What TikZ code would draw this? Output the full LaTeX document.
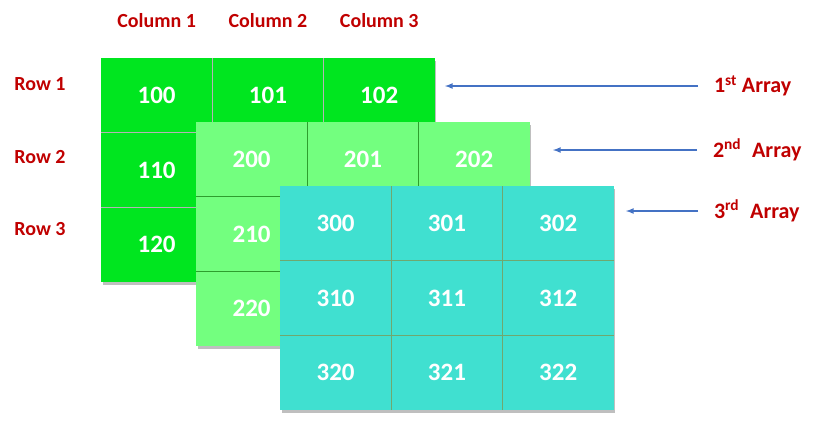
\documentclass[tikz,border=0pt]{standalone}
\usepackage{fontspec}
\setmainfont{Carlito}
\usetikzlibrary{positioning}
\usetikzlibrary{shadows}
\definecolor{brightGreen}{HTML}{00E61F}
\definecolor{paleGreen}{HTML}{73FF7F}
\definecolor{seaCyan}{HTML}{40E0D0}
\definecolor{darkRed}{HTML}{C00000}
\definecolor{arrowBlue}{HTML}{4472C4}
\definecolor{sepGrey}{HTML}{B4B4B4}
\definecolor{sepGreen}{HTML}{2E9E2E}
\definecolor{sepTeal}{HTML}{6FA86F}
% #6 = 1 when every cell shows its number, 0 when only the first row and column do
\newcommand{\cellgrid}[6]{
    \begin{scope}
        \node (#1) [gridback, fill=#3, #5] {};
        \foreach \r in {0,1,2} {
            \foreach \c in {0,1,2} {
                \pgfmathtruncatemacro{\shown}{(#6==1) || (\r==0) || (\c==0)}
                \node (#1_\r\c) [cell, fill=#3, anchor=north west, xshift=\c*\cellW pt, yshift=-\r*\cellH pt] at (#1.north west) {\ifnum\shown=1 #2\r\c\fi};
            }
        }
        \foreach \k in {0,1} {
            \draw [draw=#4, line width=0.8pt] (#1_0\k.north east) -- (#1_2\k.south east);
            \draw [draw=#4, line width=0.8pt] (#1_\k0.south west) -- (#1_\k2.south east);
        }
    \end{scope}
}

\begin{document}
\begin{tikzpicture}[x=1pt, y=-1pt, inner sep=0pt, outer sep=0pt, align=center,
    cell/.style={rectangle, minimum width=\cellW pt, minimum height=\cellH pt, text=white, font=\fontsize{25}{30}\selectfont\bfseries},
    gridback/.style={rectangle, minimum width=3*\cellW pt, minimum height=3*\cellH pt, anchor=north west, drop shadow={shadow xshift=1.5pt, shadow yshift=-3pt, opacity=0.25, fill=black}},
    headlabel/.style={text=darkRed, font=\fontsize{20}{24}\selectfont\bfseries, anchor=base},
    arraylabel/.style={text=darkRed, font=\fontsize{22}{26}\selectfont\bfseries, anchor=west, outer xsep=16pt},
    pointer/.style={-latex, draw=arrowBlue, line width=1.6pt}]
    \pgfmathsetmacro{\cellW}{111.3}
    \pgfmathsetmacro{\cellH}{74.7}
    \useasboundingbox (0,0) rectangle (822,424);

    \cellgrid{arr1}{1}{brightGreen}{sepGrey}{at={(101,58)}}{0}
    \cellgrid{arr2}{2}{paleGreen}{sepGreen}{at={(arr1.north west)}, xshift=95pt, yshift=-64pt}{0}
    \cellgrid{arr3}{3}{seaCyan}{sepTeal}{at={(arr2.north west)}, xshift=84pt, yshift=-64pt}{1}

    % column and row headings
    \node (col1) [headlabel] at (arr1_00.north |- 0,27) {Column 1};
    \node (col2) [headlabel] at (arr1_01.north |- 0,27) {Column 2};
    \node (col3) [headlabel] at (arr1_02.north |- 0,27) {Column 3};
    \node (row1) [headlabel] at (40,90) {Row 1};
    \node (row2) [headlabel] at (40,163) {Row 2};
    \node (row3) [headlabel] at (40,235) {Row 3};

    % array labels
    \node (lab1) [arraylabel] at (698,86) {1\textsuperscript{st} Array};
    \node (lab2) [arraylabel] at (697,150) {2\textsuperscript{nd}\hspace{6pt} Array};
    \node (lab3) [arraylabel] at (698,211) {3\textsuperscript{rd}\hspace{6pt} Array};
    \coordinate (tip1) at (445,86);
    \coordinate (tip2) at (553,150);
    \coordinate (tip3) at (626,211);

    \draw [pointer] (lab1.west) -- (tip1);
    \draw [pointer] (lab2.west) -- (tip2);
    \draw [pointer] (lab3.west) -- (tip3);
\end{tikzpicture}
\end{document}
